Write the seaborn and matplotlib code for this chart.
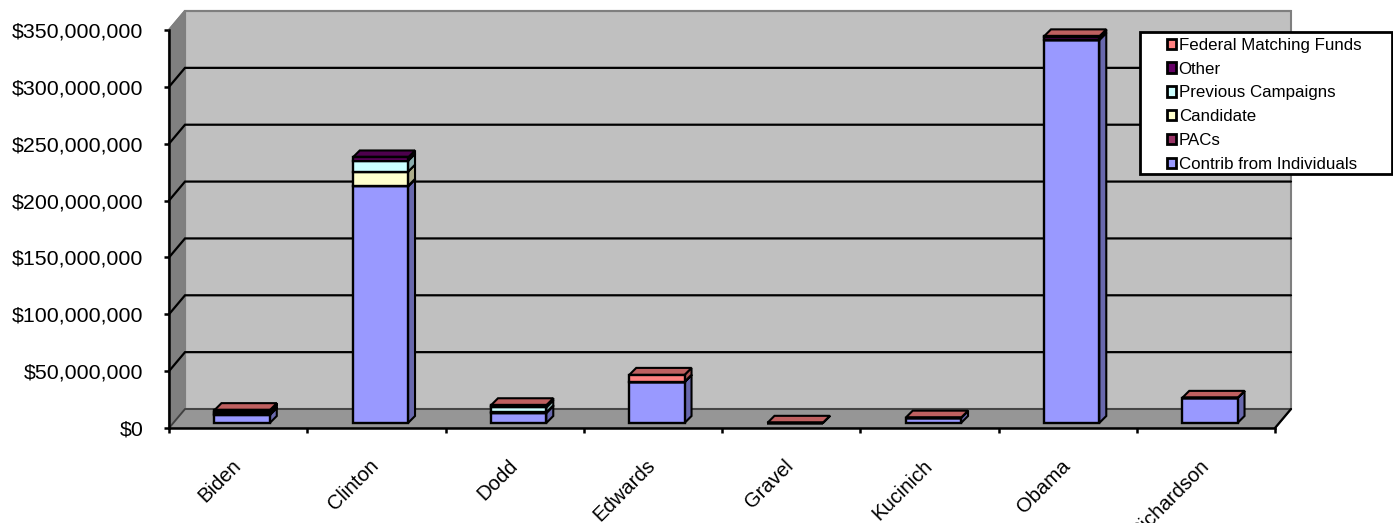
import numpy as np
import matplotlib
matplotlib.use("Agg")
import matplotlib.pyplot as plt
import matplotlib.transforms as mtransforms
from matplotlib.patches import Patch, Rectangle, Polygon
import seaborn as sns

# values, in millions of dollars
candidates = ["Biden", "Clinton", "Dodd", "Edwards", "Gravel", "Kucinich", "Obama", "Richardson"]
individuals = [7.0, 208.0, 8.8, 36.0, 0.05, 4.6, 337.0, 22.0]
pacs = [0.8, 0.5, 0.3, 0.2, 0.0, 0.0, 0.0, 0.0]
candidate_funds = [0.5, 12.5, 0.2, 0.0, 0.0, 0.0, 0.0, 0.0]
previous = [1.5, 9.5, 4.5, 0.0, 0.0, 0.0, 0.0, 0.0]
other = [1.2, 3.0, 1.5, 0.1, 0.0, 0.0, 2.5, 0.0]
federal = [0.3, 0.0, 0.3, 6.0, 0.1, 0.1, 0.5, 0.1]

series_names = ["Contrib from Individuals", "PACs", "Candidate", "Previous Campaigns", "Other", "Federal Matching Funds"]
series_values = [individuals, pacs, candidate_funds, previous, other, federal]
series_colors = ["#9999ff", "#993366", "#ffffcc", "#ccffff", "#660066", "#ff8080"]
y_ticks = [0, 50, 100, 150, 200, 250, 300, 350]

W, H = 1393, 523
AX_L, AX_R, AX_T, AX_B = 169, 1275, 30, 428
AX_W, AX_H = AX_R - AX_L, AX_B - AX_T
BAR_W = 0.40


def cat_px(px):
    return px * len(candidates) / AX_W


def val_px(px):
    return px * y_ticks[-1] / AX_H


def shade(color, f):
    return tuple(c * f for c in matplotlib.colors.to_rgb(color))


sns.set_style("white")
plt.rcParams["font.family"] = ["Liberation Sans", "DejaVu Sans"]
plt.rcParams["text.color"] = "black"

fig = plt.figure(figsize=(W / 100, H / 100), dpi=100)
ax = fig.add_axes([AX_L / W, 1 - AX_B / H, AX_W / W, AX_H / H])
ax.patch.set_alpha(0)

x0, x1 = -0.5, len(candidates) - 0.5
y0, y1 = y_ticks[0], y_ticks[-1]
wall_dx, wall_dy = cat_px(16), val_px(19)

# --- walls and floor ---
wall_kw = dict(clip_on=False, zorder=0.5, edgecolor="#7f7f7f", linewidth=1.5)
ax.add_patch(Polygon([(x0 + wall_dx, y0 + wall_dy), (x1 + wall_dx, y0 + wall_dy),
                      (x1 + wall_dx, y1 + wall_dy), (x0 + wall_dx, y1 + wall_dy)],
                     facecolor="#c0c0c0", **wall_kw))
ax.add_patch(Polygon([(x0, y0), (x0 + wall_dx, y0 + wall_dy), (x0 + wall_dx, y1 + wall_dy), (x0, y1)],
                     facecolor="#808080", **wall_kw))
ax.add_patch(Polygon([(x0, y0), (x1, y0), (x1 + wall_dx, y0 + wall_dy), (x0 + wall_dx, y0 + wall_dy)],
                     facecolor="#969696", **wall_kw))
for v in y_ticks:
    if v == y1:
        c, lw = "#7f7f7f", 1.5
    elif v == y0:
        c, lw = "#404040", 1.3
    else:
        c, lw = "black", 1.6
    ax.plot([x0, x0 + wall_dx, x1 + wall_dx], [v, v + wall_dy, v + wall_dy],
            color=c, lw=lw, clip_on=False, zorder=0.6, solid_joinstyle="miter")
ax.plot([x1, x1 + wall_dx], [y0, y0 + wall_dy], color="black", lw=1.6, clip_on=False, zorder=0.6)

# --- bars: front faces with seaborn, shifted off the front plane ---
bar_tr = mtransforms.offset_copy(ax.transData, fig=fig, x=4, y=5, units="dots")
depth_x, depth_y = cat_px(7), val_px(7)
bottom = np.zeros(len(candidates))
top_color = [series_colors[0]] * len(candidates)
for name, vals, col in zip(series_names, series_values, series_colors):
    vals = np.array(vals)
    n_before = len(ax.patches)
    sns.barplot(x=candidates, y=vals, bottom=bottom, color=col, saturation=1, width=BAR_W,
                edgecolor="black", linewidth=1.7, ax=ax, zorder=3)
    for p in ax.patches[n_before:]:
        p.set_transform(bar_tr)
        p.set_clip_on(False)
    for i in range(len(candidates)):
        xr = i + BAR_W / 2
        b, t = bottom[i], bottom[i] + vals[i]
        ax.add_patch(Polygon([(xr, b), (xr + depth_x, b + depth_y), (xr + depth_x, t + depth_y), (xr, t)],
                             facecolor=shade(col, 0.68), edgecolor="black", linewidth=1.5,
                             transform=bar_tr, clip_on=False, zorder=2.5))
        if vals[i] > 0:
            top_color[i] = col
    bottom = bottom + vals

for i, t in enumerate(bottom):
    xl, xr = i - BAR_W / 2, i + BAR_W / 2
    ax.add_patch(Polygon([(xl, t), (xr, t), (xr + depth_x, t + depth_y), (xl + depth_x, t + depth_y)],
                         facecolor=shade(top_color[i], 0.75), edgecolor="black", linewidth=1.5,
                         transform=bar_tr, clip_on=False, zorder=2.6))

# --- axes ---
ax.set_xlim(x0, x1)
ax.set_ylim(y0, y1)
sns.despine(ax=ax, top=True, right=True)
for s in ["left", "bottom"]:
    ax.spines[s].set_color("black")
    ax.spines[s].set_linewidth(1.8)
ax.set_yticks(y_ticks)
ax.set_yticklabels([f"${v * 1000000:,}" for v in y_ticks], fontsize=15.4, color="black")
ax.set_xticks(np.arange(x0, x1 + 1))
ax.set_xticklabels([])
ax.tick_params(axis="both", which="major", direction="out", length=3.8, width=1.8, color="black",
               left=True, bottom=True)
ax.tick_params(axis="y", pad=14.5)

# labels run off the bottom edge in the reference too
label_tr = mtransforms.offset_copy(ax.get_xaxis_transform(), fig=fig, x=-7, y=-28, units="dots")
for i, name in enumerate(candidates):
    ax.text(i, 0, name, rotation=45, ha="right", va="top", rotation_mode="anchor",
            fontsize=14.6, color="black", transform=label_tr, clip_on=False)

# --- legend ---
fig.patches.append(Rectangle((1140 / W, 1 - 174 / H), 252 / W, 142 / H, transform=fig.transFigure,
                             facecolor="white", edgecolor="black", linewidth=2, zorder=5))
handles = [Patch(facecolor=c, edgecolor="black", linewidth=2, label=n)
           for n, c in zip(series_names[::-1], series_colors[::-1])]
leg = fig.legend(handles=handles, loc="upper left", bbox_to_anchor=(1160 / W, 1 - 31 / H),
                 frameon=False, fontsize=12.2, handlelength=0.55, handleheight=0.55,
                 handletextpad=0.15, labelspacing=0.52, borderpad=0.4, borderaxespad=0,
                 labelcolor="black")
leg.set_zorder(6)

fig.savefig("out.png", dpi=100)
